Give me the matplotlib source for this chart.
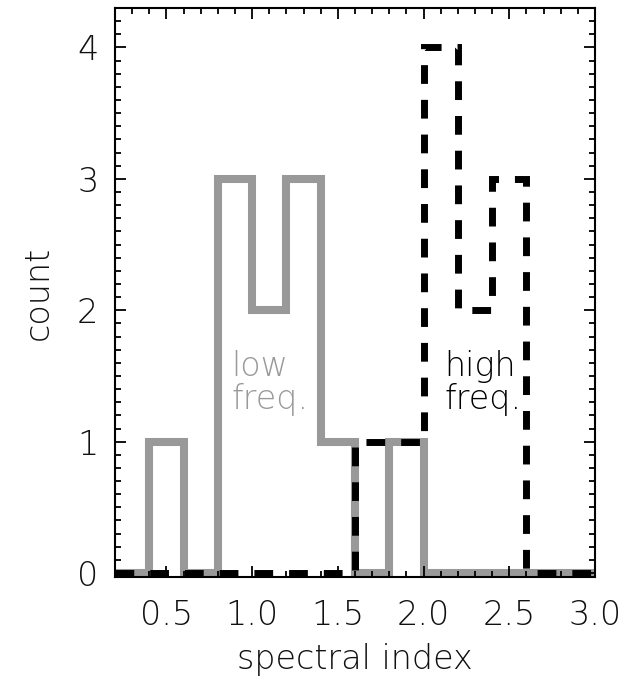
import numpy as np
import matplotlib as mpl
mpl.use('Agg')
import matplotlib.pyplot as plt
from matplotlib.ticker import MultipleLocator

# histogram bins (width 0.2) and counts
edges = [0.2, 0.4, 0.6, 0.8, 1.0, 1.2, 1.4, 1.6, 1.8, 2.0, 2.2, 2.4, 2.6, 2.8, 3.0]
low_counts = [0, 1, 0, 3, 2, 3, 1, 0, 1, 0, 0, 0, 0, 0]
high_counts = [0, 0, 0, 0, 0, 0, 0, 1, 1, 4, 2, 3, 0, 0]

xticks = [0.5, 1.0, 1.5, 2.0, 2.5, 3.0]
xticklabels = ['0.5', '1.0', '1.5', '2.0', '2.5', '3.0']
yticks = [0, 1, 2, 3, 4]

plt.rcParams['font.family'] = ['DejaVu Sans']
plt.rcParams['font.weight'] = 'ultralight'
plt.rcParams['axes.labelweight'] = 'ultralight'
fs = 24
tc = '#111111'

fig = plt.figure(figsize=(6.27, 6.8), dpi=100)
ax = fig.add_axes([115/627, 1-577/680, 480/627, 569/680])

ax.stairs(low_counts, edges, baseline=None, color='#999999', lw=5.8)
st = ax.stairs(high_counts, edges, baseline=None, color='black', lw=5.0,
               linestyle=(0, (2.7, 2.3)))
st.set_capstyle('butt')
st.set_joinstyle('miter')

ax.set_xlim(0.2, 3.0)
ax.set_ylim(-0.03, 4.3)
ax.set_xticks(xticks)
ax.set_xticklabels(xticklabels)
ax.set_yticks(yticks)
ax.xaxis.set_minor_locator(MultipleLocator(0.1))
ax.yaxis.set_minor_locator(MultipleLocator(0.1))
ax.tick_params(which='both', direction='in', top=True, right=True, width=1.3,
               labelsize=fs, labelcolor=tc)
ax.tick_params(which='major', length=8)
ax.tick_params(axis='x', which='major', pad=16)
ax.tick_params(axis='y', which='major', pad=12)
ax.tick_params(which='minor', length=4)
for s in ax.spines.values():
    s.set_linewidth(1.5)

ax.text(0.88, 1.45, 'low\nfreq.', color='#999999', fontsize=fs, ha='left',
        va='center', linespacing=1.0)
ax.text(2.12, 1.45, 'high\nfreq.', color='black', fontsize=fs, ha='left',
        va='center', linespacing=1.0)

ax.set_xlabel('spectral index', fontsize=fs, color=tc, labelpad=8)
ax.set_ylabel('count', fontsize=fs, color=tc, labelpad=16)

plt.savefig('out.png', dpi=100)
plt.close()
